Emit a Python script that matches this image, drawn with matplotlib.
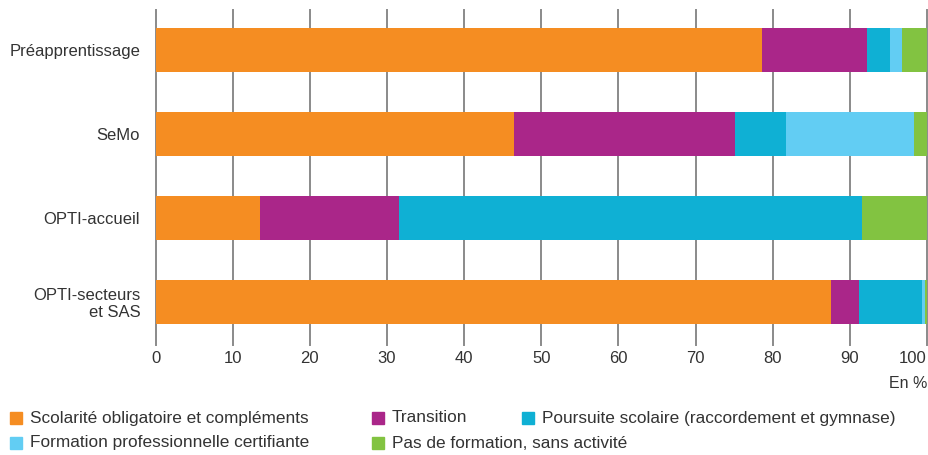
import matplotlib
matplotlib.use("Agg")
import matplotlib.pyplot as plt
from matplotlib.patches import Rectangle
import numpy as np

categories = ["Préapprentissage", "SeMo", "OPTI-accueil", "OPTI-secteurs\net SAS"]
series_names = ["Scolarité obligatoire et compléments", "Transition",
                "Poursuite scolaire (raccordement et gymnase)",
                "Formation professionnelle certifiante",
                "Pas de formation, sans activité"]
scolarite = [78.6, 46.5, 13.5, 87.5]
transition = [13.6, 28.6, 18.0, 3.7]
poursuite = [3.0, 6.6, 60.1, 8.2]
formation = [1.6, 16.6, 0.0, 0.4]
sans_activite = [3.2, 1.7, 8.4, 0.2]
xticks = [0, 10, 20, 30, 40, 50, 60, 70, 80, 90, 100]

colors = ["#F58D22", "#AA2689", "#0FB0D4", "#62CDF3", "#82C341"]

plt.rcParams['font.family'] = ['Liberation Sans', 'DejaVu Sans']
fig = plt.figure(figsize=(9.29, 4.55), dpi=100)
ax = fig.add_axes([155.5/929, 1-345/455, (927-155.5)/929, 335/455])

y = np.arange(len(categories))
left = np.zeros(len(categories))
for vals, c in zip([scolarite, transition, poursuite, formation, sans_activite], colors):
    ax.barh(y, vals, left=left, height=0.525, color=c, zorder=3, linewidth=0)
    left += np.array(vals)

for t in xticks:
    ax.axvline(t, color="#8a8a8a", lw=1.4, zorder=1, clip_on=False)

ax.set_xlim(0, 100)
ax.set_ylim(3.513, -0.483)
ax.set_xticks(xticks)
ax.set_xticklabels([str(t) for t in xticks], fontsize=12, color="#333333")
ax.get_xticklabels()[-1].set_ha("right")
ax.set_yticks(y)
ax.set_yticklabels(categories, fontsize=12, color="#333333", linespacing=1.1)
ax.tick_params(axis='both', length=0)
ax.tick_params(axis='x', pad=4)
ax.tick_params(axis='y', pad=11)
for s in ax.spines.values():
    s.set_visible(False)

fig.text(927/929, 1-383/455, "En %", ha="right", va="center", fontsize=11.5, color="#333333")

# legend
pos = [(10, 418), (372, 418), (522, 418), (10, 443), (372, 443)]
for (px, py), name, c in zip(pos, series_names, colors):
    fig.patches.append(Rectangle((px/929, 1-(py+6)/455), 12/929, 12/455,
                                 transform=fig.transFigure, color=c, figure=fig))
    fig.text((px+20)/929, 1-py/455, name, ha="left", va="center", fontsize=12.4, color="#333333")

fig.savefig("out.png", dpi=100)
